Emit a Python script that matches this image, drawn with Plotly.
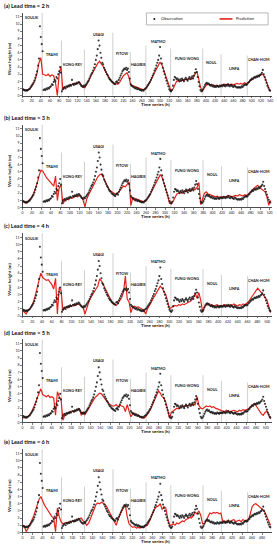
import numpy as np
import plotly.graph_objects as go

# ---------------- data ----------------
typhoons = ["SOULIK", "TRAMI", "KONG-REY", "USAGI", "FITOW", "HAGIBIS",
            "MATMO", "FUNG-WONG", "NOUL", "LINFA", "CHAN-HOM"]
# typhoon boundaries on the lead-2h time axis (h)
boundaries = [43, 85, 135, 197, 235, 269, 323, 393, 433, 490]
ref_end = 540
panel_titles = ["(a) Lead time = 2 h", "(b) Lead time = 3 h", "(c) Lead time = 4 h",
                "(d) Lead time = 5 h", "(e) Lead time = 6 h"]
panel_ends = [540, 522, 507, 510, 497]
axis_ends = [543, 524, 509, 512, 499]

# observed wave height (m), 2-h sampling on lead-2h axis
observation = [
    0.8, 0.9, 0.8, 0.7, 0.8, 0.7, 0.8, 0.9, 1.0, 1.2, 1.4, 1.6, 1.8, 2.1, 2.5, 2.9, 3.4, 4.2, 5.2, 9.7, 8.2, 7.2, 6.2,
    0.8, 0.9, 0.8, 1.0, 0.9, 1.1, 1.0, 1.2, 1.3, 1.6, 1.5, 1.9, 2.2, 2.0, 2.6, 2.4, 3.0, 3.4, 4.0, 3.2,
    0.6, 0.9, 1.1, 1.2, 1.0, 1.3, 1.2, 1.4, 1.3, 1.5, 1.4, 2.2, 1.6, 1.5, 1.7, 1.6, 1.8, 1.7, 1.9, 1.8, 1.6, 1.4, 1.3, 1.2, 1.4,
    1.3, 1.5, 1.7, 1.9, 2.1, 2.4, 2.7, 3.0, 3.2, 3.5, 3.9, 4.4, 5.0, 5.6, 6.5, 7.7, 7.0, 6.0, 5.3, 4.6, 4.4, 3.9, 3.6, 3.3, 3.0, 2.8, 2.5, 2.3, 2.2, 2.0, 1.9,
    1.8, 1.7, 1.6, 1.9, 2.0, 1.8, 2.2, 2.5, 2.8, 3.1, 3.4, 3.6, 3.8, 3.7, 3.9, 3.6, 3.8, 3.3, 2.4,
    1.6, 1.4, 1.3, 1.2, 1.1, 1.0, 1.1, 0.9, 1.0, 0.9, 0.8, 0.8, 0.7, 0.8, 0.7, 0.9, 1.0,
    1.1, 1.3, 1.5, 1.7, 1.9, 2.2, 2.5, 2.8, 3.1, 3.5, 3.8, 4.2, 4.6, 5.0, 5.6, 6.8, 5.2, 4.5, 3.9, 3.4, 3.0, 2.5, 2.1, 1.7, 1.3, 0.9, 0.7,
    0.6, 0.8, 1.4, 2.2, 2.6, 2.5, 2.3, 2.4, 2.2, 2.0, 2.3, 2.1, 2.4, 2.2, 2.0, 2.3, 2.5, 2.3, 2.1, 2.4, 2.6, 2.3, 2.5, 2.7, 2.4, 2.8, 3.2, 3.7, 3.3, 2.6, 1.9, 1.3, 0.8, 0.6, 0.7,
    0.9, 1.2, 1.5, 1.7, 1.8, 1.6, 1.7, 1.5, 1.4, 1.5, 1.3, 1.4, 1.2, 1.3, 1.2, 1.4, 1.3, 1.2, 1.4, 1.3,
    1.4, 1.3, 1.5, 1.4, 1.3, 1.5, 1.4, 1.6, 1.4, 1.3, 1.5, 1.4, 1.3, 1.2, 1.4, 1.3, 1.2, 1.1, 1.2, 1.1, 1.2, 1.1, 1.3, 1.2, 1.4, 1.5, 1.6, 1.5,
    1.6, 1.8, 1.9, 2.1, 2.2, 2.4, 2.3, 2.5, 2.6, 2.5, 2.7, 2.6, 2.8, 2.7, 2.9, 3.0, 3.2, 3.6, 3.0, 2.6, 2.2, 1.8, 1.4, 1.1, 0.8, 0.7,
]

# predicted wave height (m), 4-h sampling on lead-2h axis
pred_2h = [
    0.8, 0.7, 0.7, 0.8, 0.9, 1.3, 1.7, 2.3, 3.2, 4.6, 5.3,
    3.0, 2.9, 2.8, 3.0, 2.7, 2.9, 2.8, 1.8, 0.0, 3.0, 4.1,
    0.8, 1.1, 1.2, 1.3, 1.5, 1.6, 1.7, 1.6, 1.8, 1.9, 1.5, 1.2,
    1.1, 1.5, 2.0, 2.6, 3.1, 3.6, 4.0, 4.5, 4.8, 4.5, 4.1, 3.5, 3.0, 2.6, 2.2, 1.9,
    1.6, 1.7, 1.6, 1.9, 2.4, 2.8, 3.0, 3.2, 2.6,
    1.5, 1.4, 1.3, 1.2, 1.1, 1.0, 0.9, 0.8, 0.9,
    1.3, 1.7, 2.2, 2.7, 3.2, 3.7, 4.2, 4.7, 4.3, 3.5, 2.7, 2.0, 1.2,
    0.6, 0.9, 1.6, 2.0, 2.1, 2.0, 2.2, 2.1, 2.3, 2.2, 2.4, 2.3, 2.5, 2.9, 3.4, 2.4, 1.2, 0.7,
    1.0, 1.4, 1.7, 1.6, 1.5, 1.5, 1.4, 1.4, 1.3, 1.4,
    1.5, 1.6, 1.5, 1.6, 1.5, 1.6, 1.5, 1.6, 1.7, 1.6, 1.7, 1.6, 1.8, 1.7,
    1.8, 2.1, 2.3, 2.5, 2.6, 2.7, 2.8, 2.9, 3.0, 2.6, 1.9, 1.2, 0.6,
]
pred_3h = [
    0.9, 0.8, 0.6, 0.9, 1.1, 1.4, 1.9, 2.6, 3.4, 4.4, 5.2,
    5.1, 4.6, 4.2, 3.9, 3.6, 3.2, 3.0, 4.4, 1.0, 2.8, 3.1,
    0.5, 1.0, 1.2, 1.1, 1.4, 1.3, 1.5, 1.6, 1.5, 1.7, 1.6, 1.0,
    0.1, 1.2, 1.8, 2.3, 2.9, 3.4, 3.9, 4.3, 4.6, 4.7, 4.2, 3.6, 3.0, 2.6, 2.3, 2.1,
    1.9, 1.8, 2.1, 2.4, 2.8, 3.0, 2.9, 3.2, 3.6,
    0.3, 1.4, 1.3, 1.2, 1.1, 1.0, 0.9, 0.8, 0.9,
    1.2, 1.6, 2.1, 2.6, 3.1, 3.6, 4.1, 4.6, 4.2, 3.4, 2.6, 1.7, 0.6,
    0.5, 0.9, 1.5, 1.9, 2.0, 2.2, 2.0, 2.3, 2.2, 2.5, 2.3, 2.4, 2.6, 2.5, 2.8, 3.5, 0.4, 1.2,
    2.0, 2.2, 1.9, 1.8, 1.7, 1.6, 1.5, 1.6, 1.4, 1.5,
    1.5, 1.6, 1.5, 1.7, 1.6, 1.5, 1.6, 1.7, 1.6, 1.8, 1.7, 1.6, 1.8, 1.7,
    1.9, 2.2, 2.4, 2.7, 2.9, 3.1, 2.8, 2.6, 2.4, 2.2, 1.5, 0.3, 1.0,
]
pred_4h = [
    0.8, 0.6, 0.3, 0.8, 1.0, 1.4, 2.0, 2.9, 3.9, 5.2, 6.0,
    5.4, 5.2, 5.0, 5.1, 4.8, 4.4, 3.8, 5.3, 0.3, 4.0, 3.6,
    0.8, 1.1, 1.3, 1.2, 1.5, 1.4, 1.6, 1.5, 1.7, 1.6, 1.4, 1.2,
    0.3, 1.3, 1.9, 2.5, 3.0, 3.5, 3.8, 4.2, 5.2, 4.9, 4.4, 3.8, 3.2, 2.7, 2.2, 1.8,
    1.6, 1.5, 1.8, 2.2, 2.6, 3.4, 5.6, 2.4, 2.0,
    0.5, 1.3, 1.4, 1.2, 1.3, 1.1, 1.0, 0.9, 0.3,
    1.0, 1.4, 1.9, 2.4, 2.9, 3.4, 3.8, 4.2, 3.9, 3.5, 3.0, 2.1, 1.0,
    1.2, 1.4, 1.5, 1.4, 1.6, 1.5, 1.7, 1.6, 1.8, 1.9, 2.0, 2.2, 2.6, 3.2, 2.5, 3.3, 2.2, 0.6,
    1.3, 1.6, 1.8, 1.5, 1.6, 1.4, 1.5, 1.6, 1.4, 1.5,
    1.4, 1.6, 1.5, 1.4, 1.6, 1.5, 1.7, 1.5, 1.4, 1.6, 1.5, 1.7, 1.6, 1.8,
    2.0, 2.4, 2.8, 3.2, 3.6, 3.9, 3.6, 3.3, 3.0, 2.7, 2.3, 1.4, 0.5,
]
pred_5h = [
    0.6, 0.7, 0.6, 0.8, 1.1, 1.5, 2.0, 2.7, 3.4, 4.2, 4.7,
    3.9, 3.7, 3.6, 3.8, 3.5, 3.6, 3.4, 1.0, 4.3, 3.6, 3.2,
    0.3, 1.0, 1.2, 1.3, 1.4, 1.6, 1.5, 1.7, 1.8, 1.9, 1.0, 1.5,
    1.1, 1.5, 2.0, 2.5, 2.9, 3.3, 3.6, 3.9, 4.1, 4.0, 3.6, 3.3, 2.9, 2.6, 2.4, 2.3,
    2.3, 2.5, 2.2, 2.4, 2.3, 2.2, 1.5, 2.5, 1.6,
    0.8, 1.2, 1.3, 1.1, 1.0, 0.7, 0.6, 0.6, 0.8,
    1.1, 1.5, 2.0, 2.6, 3.2, 3.8, 4.4, 4.1, 3.6, 3.4, 2.8, 1.8, 0.6,
    1.4, 1.6, 1.8, 2.0, 1.9, 2.1, 2.3, 2.2, 2.4, 2.3, 2.5, 2.4, 2.6, 2.5, 3.6, 2.4, 2.0, 1.9,
    2.1, 2.3, 2.2, 2.3, 2.1, 2.2, 2.0, 1.9, 1.8, 1.7,
    1.6, 1.5, 1.7, 1.6, 1.5, 1.6, 1.7, 1.6, 1.5, 1.7, 1.6, 1.8, 1.7, 1.8,
    1.9, 2.2, 2.4, 2.6, 2.4, 2.0, 1.6, 1.2, 1.0, 1.4, 1.6, 1.0, 0.5,
]
pred_6h = [
    0.8, 0.9, 0.1, 0.5, 1.1, 1.6, 2.2, 3.0, 3.8, 4.6, 5.0,
    4.3, 3.8, 3.4, 3.0, 2.6, 2.2, 2.0, 0.1, 3.4, 2.2, 1.5,
    1.2, 1.3, 1.4, 1.3, 1.5, 1.6, 1.5, 1.7, 1.8, 1.9, 2.0, 1.6,
    1.4, 1.0, 1.3, 1.9, 2.6, 3.4, 3.9, 4.1, 4.0, 4.2, 4.0, 3.9, 3.5, 3.0, 2.5, 2.0,
    1.5, 1.0, 1.8, 2.5, 3.0, 3.4, 3.8, 2.2, 1.2,
    0.9, 0.7, 0.8, 0.6, 0.7, 0.6, 0.8, 0.7, 0.9,
    1.0, 1.5, 2.2, 2.9, 3.3, 3.6, 3.7, 4.0, 3.2, 3.6, 3.4, 2.0, 1.0,
    1.0, 1.2, 1.0, 1.3, 1.2, 1.4, 1.6, 1.5, 1.8, 1.9, 2.1, 2.0, 2.5, 2.8, 2.6, 3.0, 2.4, 1.2,
    1.2, 1.6, 2.2, 2.7, 2.6, 2.8, 2.7, 2.8, 2.6, 2.7,
    1.5, 1.6, 1.4, 1.7, 1.5, 1.6, 1.8, 1.5, 1.6, 1.7, 1.5, 1.8, 1.6, 1.7,
    1.8, 2.6, 3.6, 3.9, 4.0, 3.8, 3.6, 3.4, 3.1, 2.8, 2.2, 1.6, 1.0,
]
predictions = [pred_2h, pred_3h, pred_4h, pred_5h, pred_6h]

# annotation layout (value units)
label_heights = [10.9, 5.8, 4.4, 8.6, 5.9, 4.4, 7.6, 5.2, 4.6, 3.8, 5.0]
sep_tops = [11.6, 7.7, 6.4, 8.8, 6.1, 7.0, 6.6, 6.6, 5.8, 5.6]

# ---------------- layout geometry ----------------
W, H = 277, 550
x_left, x_right = 21.7, 273.5
axis_bottoms = [96, 208.3, 317.3, 424, 534.3]
y_top_val = 11.6
px_per_unit = 7.18
FONT = "Lato, 'Liberation Sans', Arial, sans-serif"
RED = "#e3231b"
DOT = "#151515"

fig = go.Figure()
layout = dict(width=W, height=H, margin=dict(l=0, r=0, t=0, b=0),
              paper_bgcolor="white", plot_bgcolor="white", showlegend=False,
              font=dict(family=FONT, color="#111"))
annotations = []
shapes = []

def fx(px):
    return px / W

def fy(py):
    return 1 - py / H

for p in range(5):
    sfx = "" if p == 0 else str(p + 1)
    xa, ya = "x" + sfx, "y" + sfx
    end = panel_ends[p]
    scale = end / ref_end
    xo = np.linspace(0, end, len(observation))
    xp = np.linspace(0, end, len(predictions[p]))
    fig.add_trace(go.Scatter(x=xp, y=predictions[p], mode="lines",
                             line=dict(color=RED, width=1.2), name="Prediction",
                             xaxis=xa, yaxis=ya, hoverinfo="skip"))
    fig.add_trace(go.Scatter(x=xo, y=observation, mode="markers",
                             marker=dict(size=2.1, color=DOT, opacity=0.85, line=dict(width=0)),
                             name="Observation", xaxis=xa, yaxis=ya, hoverinfo="skip"))

    bottom = axis_bottoms[p]
    top = bottom - y_top_val * px_per_unit
    layout["xaxis" + sfx] = dict(
        domain=[fx(x_left), fx(x_right)], anchor=ya, range=[0, axis_ends[p]],
        tickmode="linear", tick0=0, dtick=20, showline=True, linecolor="#222", linewidth=0.8,
        ticks="outside", ticklen=1.5, tickwidth=0.6, tickcolor="#222",
        showgrid=False, zeroline=False, tickfont=dict(size=3.4, family=FONT, color="#222"),
        ticklabelstandoff=0, fixedrange=True)
    layout["yaxis" + sfx] = dict(
        domain=[fy(bottom), fy(top)], anchor=xa, range=[0, y_top_val],
        tickmode="linear", tick0=0, dtick=1, showline=True, linecolor="#222", linewidth=0.8,
        ticks="outside", ticklen=1.5, tickwidth=0.6, tickcolor="#222",
        showgrid=False, zeroline=False, tickfont=dict(size=3.4, family=FONT, color="#222"),
        fixedrange=True)

    # panel title
    annotations.append(dict(text="<b>" + panel_titles[p] + "</b>", xref="paper", yref="paper",
                            x=fx(1.5), y=fy(top - 7.5), xanchor="left", yanchor="middle",
                            showarrow=False, font=dict(size=5.6, family=FONT, color="#111")))
    # axis titles
    annotations.append(dict(text="<b>Time series (h)</b>", xref="paper", yref="paper",
                            x=fx(156), y=fy(bottom + 9.3), xanchor="center", yanchor="middle",
                            showarrow=False, borderpad=0,
                            font=dict(size=4.5, family=FONT, color="#111")))
    annotations.append(dict(text="<b>Wave height (m)</b>", xref="paper", yref="paper",
                            x=fx(8.5), y=fy(bottom - 37), xanchor="center", yanchor="middle",
                            textangle=-90, showarrow=False,
                            font=dict(size=4.5, family=FONT, color="#111")))

    # typhoon separators and labels
    edges = [0] + [b * scale for b in boundaries] + [end]
    for b, t in zip(boundaries, sep_tops):
        shapes.append(dict(type="line", xref=xa, yref=ya, x0=b * scale, x1=b * scale,
                           y0=0, y1=t, line=dict(color="#b0b0b0", width=0.6), layer="below"))
    for i, name in enumerate(typhoons):
        annotations.append(dict(text="<b>" + name + "</b>", xref=xa, yref=ya,
                                x=(edges[i] + edges[i + 1]) / 2, y=label_heights[i],
                                xanchor="center", yanchor="middle", showarrow=False,
                                borderpad=0,
                                font=dict(size=3.7, family=FONT, color="#111")))

# manual legend in panel (a)
shapes.append(dict(type="rect", xref="paper", yref="paper", x0=fx(147), x1=fx(270),
                   y0=fy(25), y1=fy(13), line=dict(color="#9a9a9a", width=0.7),
                   fillcolor="white", layer="above"))
shapes.append(dict(type="circle", xref="paper", yref="paper", x0=fx(154), x1=fx(156),
                   y0=fy(20), y1=fy(18), line=dict(width=0), fillcolor=DOT, layer="above"))
shapes.append(dict(type="line", xref="paper", yref="paper", x0=fx(221), x1=fx(234),
                   y0=fy(19), y1=fy(19), line=dict(color=RED, width=1.6), layer="above"))
annotations.append(dict(text="Observation", xref="paper", yref="paper", x=fx(160), y=fy(19),
                        xanchor="left", yanchor="middle", showarrow=False,
                        font=dict(size=4.0, family=FONT, color="#111")))
annotations.append(dict(text="Prediction", xref="paper", yref="paper", x=fx(236), y=fy(19),
                        xanchor="left", yanchor="middle", showarrow=False,
                        font=dict(size=4.0, family=FONT, color="#111")))

layout["annotations"] = annotations
layout["shapes"] = shapes
fig.update_layout(**layout)
fig.write_html("out.html", config={"displayModeBar": False, "staticPlot": True},
               post_script="document.body.style.margin='0';document.body.style.overflow='hidden';")
